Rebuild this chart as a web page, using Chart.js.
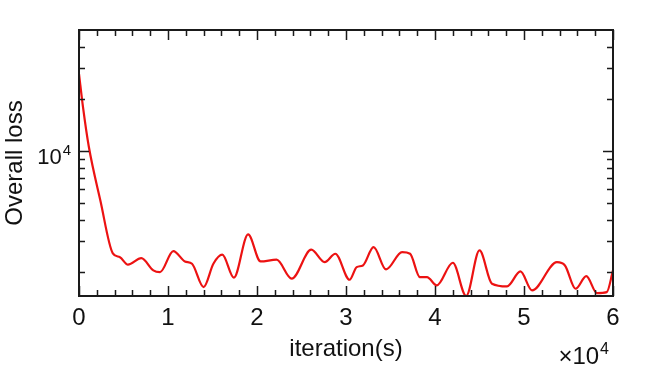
<!DOCTYPE html>
<html>
<head>
<meta charset="utf-8">
<script src="https://cdn.jsdelivr.net/npm/chart.js@4/dist/chart.umd.min.js"></script>
<style>
html, body { margin: 0; padding: 0; background: #fff; }
#wrap { width: 664px; height: 372px; }
</style>
</head>
<body>
<div id="wrap"><canvas id="lossChart" width="664" height="372"></canvas></div>
<script>
// data
var iterations = [0, 450, 1100, 2400, 3800, 4600, 5500, 7000, 8350, 9100,
  10600, 11900, 12700, 14000, 15100, 16100, 17400, 19000, 20400, 22200,
  23900, 26100, 27600, 28800, 30400, 31200, 31900, 33100, 34500, 36300,
  37200, 38300, 39100, 40200, 42000, 43500, 45000, 46400, 48100, 49600,
  50900, 53700, 54600, 55800, 57000, 58200, 59300, 60000];
var overallLoss = [27900, 17900, 10600, 5175, 2560, 2430, 2200, 2400, 2038, 1992,
  2635, 2297, 2228, 1633, 2228, 2512, 1850, 3290, 2297, 2350,
  1825, 2685, 2275, 2545, 1800, 2130, 2178, 2780, 2065, 2600,
  2545, 1865, 1865, 1670, 2257, 1450, 2660, 1708, 1648, 2010,
  1563, 2275, 2178, 1597, 1888, 1507, 1527, 2038];

var xMajorTicks = [0, 10000, 20000, 30000, 40000, 50000, 60000];
var xMinorStep = 2000;
var yLabelTicks = [10000];
var yMinorTicks = [2000, 3000, 4000, 5000, 6000, 7000, 8000, 9000, 20000, 30000, 40000];
var xExponent = 4;

var FONT = "'Liberation Sans', Arial, sans-serif";

var pts = iterations.map(function (v, i) { return { x: v, y: overallLoss[i] }; });

// base + raised exponent, right aligned at x
function drawPow(c, xRight, baseline, base, exp, size) {
  c.font = Math.round(size * 0.68) + 'px ' + FONT;
  var ew = c.measureText(exp).width;
  c.textAlign = 'right';
  c.textBaseline = 'alphabetic';
  c.fillText(exp, xRight, baseline - size * 0.42);
  c.font = size + 'px ' + FONT;
  c.fillText(base, xRight - ew - 1, baseline);
}

// frame + inward ticks like matlab
var matlabAxes = {
  id: 'matlabAxes',
  afterDraw: function (chart) {
    var c = chart.ctx, a = chart.chartArea;
    var xs = chart.scales.x, ys = chart.scales.y;
    c.save();
    c.strokeStyle = '#1a1a1a';
    c.lineWidth = 1.5;
    c.beginPath();
    var x, i;
    for (x = xs.min; x <= xs.max; x += xMinorStep) {
      var px = Math.round(xs.getPixelForValue(x)) + 0.5;
      var len = xMajorTicks.indexOf(x) >= 0 ? 10 : 6;
      c.moveTo(px, a.bottom); c.lineTo(px, a.bottom - len);
      c.moveTo(px, a.top); c.lineTo(px, a.top + len);
    }
    var all = yMinorTicks.concat(yLabelTicks);
    for (i = 0; i < all.length; i++) {
      var py = Math.round(ys.getPixelForValue(all[i])) + 0.5;
      var l2 = yLabelTicks.indexOf(all[i]) >= 0 ? 10 : 6;
      c.moveTo(a.left, py); c.lineTo(a.left + l2, py);
      c.moveTo(a.right, py); c.lineTo(a.right - l2, py);
    }
    c.stroke();
    c.lineWidth = 2;
    c.strokeRect(a.left, a.top, a.right - a.left, a.bottom - a.top);

    c.fillStyle = '#111';
    // y tick labels as 10^n
    yLabelTicks.forEach(function (v) {
      var p = ys.getPixelForValue(v);
      drawPow(c, a.left - 8, p + 13, '10', String(Math.round(Math.log10(v))), 22);
    });
    // exponent under the x axis
    drawPow(c, a.right - 4, 364, '\u00d710', String(xExponent), 24);
    c.restore();
  }
};

new Chart(document.getElementById('lossChart'), {
  type: 'line',
  data: {
    datasets: [{
      data: pts,
      borderColor: 'rgb(236,18,18)',
      borderWidth: 2.2,
      pointRadius: 0,
      fill: false,
      cubicInterpolationMode: 'monotone'
    }]
  },
  options: {
    responsive: false,
    animation: false,
    layout: { padding: { top: 30, right: 51, left: 0, bottom: 0 } },
    plugins: { legend: { display: false }, tooltip: { enabled: false } },
    scales: {
      x: {
        type: 'linear',
        min: 0, max: 60000,
        afterBuildTicks: function (s) { s.ticks = xMajorTicks.map(function (v) { return { value: v }; }); },
        afterFit: function (s) { s.height = 76; },
        grid: { display: false, drawTicks: false },
        border: { display: false },
        ticks: {
          color: '#111', padding: 8, maxRotation: 0,
          font: { family: FONT, size: 24 },
          callback: function (v) { return String(v / 10000); }
        },
        title: {
          display: true, text: 'iteration(s)', color: '#111',
          font: { family: FONT, size: 24 },
          padding: { top: 0, bottom: 8 }
        }
      },
      y: {
        type: 'logarithmic',
        min: 1450, max: 50000,
        afterBuildTicks: function (s) { s.ticks = yLabelTicks.map(function (v) { return { value: v }; }); },
        afterFit: function (s) { s.width = 79; },
        grid: { display: false, drawTicks: false },
        border: { display: false },
        ticks: { display: false },
        title: {
          display: true, text: 'Overall loss', color: '#111',
          font: { family: FONT, size: 24 },
          padding: { top: 1, bottom: 0 }
        }
      }
    }
  },
  plugins: [matlabAxes]
});
</script>
</body>
</html>
